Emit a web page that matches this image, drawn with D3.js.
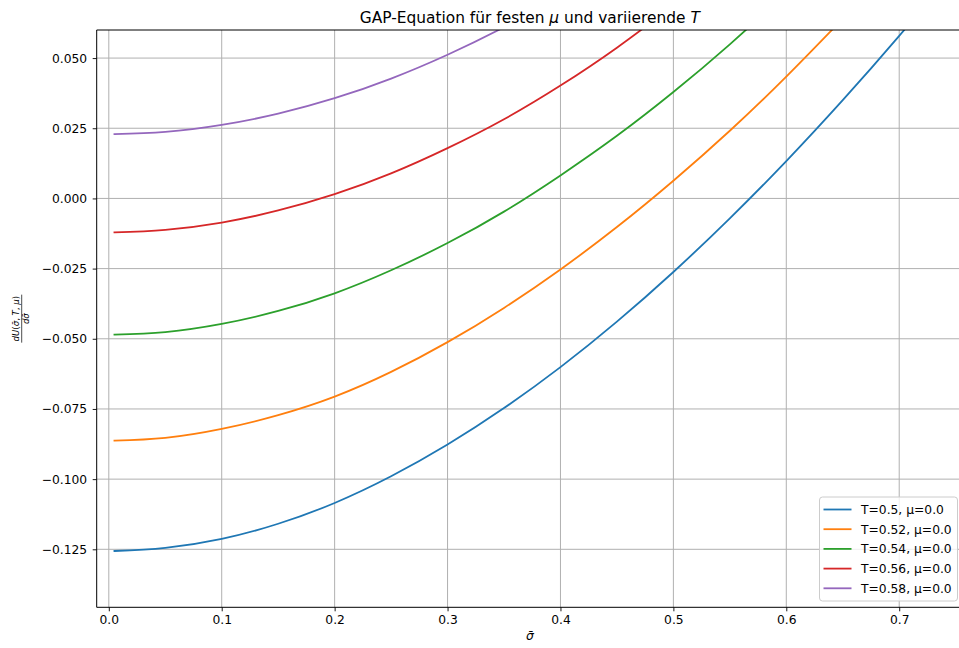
<!DOCTYPE html>
<html>
<head>
<meta charset="utf-8">
<script src="https://cdn.jsdelivr.net/npm/d3@7"></script>
<style>
  html, body { margin: 0; padding: 0; background: #fff; }
  svg { display: block; font-family: "DejaVu Sans", sans-serif; }
</style>
</head>
<body>
<svg id="chart" width="959" height="648"></svg>
<script>
// ---- data ----
const sigma = [0.005, 0.05, 0.1, 0.15, 0.2, 0.25, 0.3, 0.35, 0.4, 0.45, 0.5, 0.55, 0.6, 0.65, 0.7, 0.75];
const seriesLabels = ["T=0.5, μ=0.0", "T=0.52, μ=0.0", "T=0.54, μ=0.0", "T=0.56, μ=0.0", "T=0.58, μ=0.0"];
const valuesT050 = [-0.1256, -0.1245, -0.1213, -0.1159, -0.1085, -0.0990, -0.0877, -0.0747, -0.0601, -0.0439, -0.0262, -0.0071, 0.0133, 0.0350, 0.0579, 0.0819];
const valuesT052 = [-0.0863, -0.0853, -0.0821, -0.0772, -0.0706, -0.0618, -0.0512, -0.0390, -0.0253, -0.0102, 0.0063, 0.0241, 0.0434, 0.0640];
const valuesT054 = [-0.0485, -0.0476, -0.0447, -0.0401, -0.0338, -0.0256, -0.0159, -0.0047, 0.0082, 0.0223, 0.0379, 0.0549, 0.0732];
const valuesT056 = [-0.0121, -0.0112, -0.0086, -0.0043, 0.0015, 0.0089, 0.0179, 0.0282, 0.0402, 0.0537, 0.0687];
const valuesT058 = [0.0229, 0.0237, 0.0262, 0.0302, 0.0357, 0.0427, 0.0512, 0.0610, 0.0720];
const xTicks = [0.0, 0.1, 0.2, 0.3, 0.4, 0.5, 0.6, 0.7];
const yTicks = [-0.125, -0.100, -0.075, -0.050, -0.025, 0.000, 0.025, 0.050];
const colors = ["#1f77b4", "#ff7f0e", "#2ca02c", "#d62728", "#9467bd"];

const allSeries = [valuesT050, valuesT052, valuesT054, valuesT056, valuesT058];

// ---- layout ----
const svg = d3.select("#chart");
const pLeft = 96.7, pRight = 963, pTop = 30, pBottom = 607.3;

const x = d3.scaleLinear().domain([-0.01072, 0.7565]).range([pLeft, pRight]);
const y = d3.scaleLinear().domain([-0.14566, 0.06000]).range([pBottom, pTop]);

svg.append("defs").append("clipPath").attr("id", "plotclip")
  .append("rect").attr("x", pLeft).attr("y", pTop).attr("width", pRight - pLeft).attr("height", pBottom - pTop);

// grid
const grid = svg.append("g");
grid.selectAll(".gx").data(xTicks).join("line")
  .attr("x1", d => x(d)).attr("x2", d => x(d)).attr("y1", pTop).attr("y2", pBottom)
  .attr("stroke", "#b0b0b0").attr("stroke-width", 1);
grid.selectAll(".gy").data(yTicks).join("line")
  .attr("x1", pLeft).attr("x2", pRight).attr("y1", d => y(d)).attr("y2", d => y(d))
  .attr("stroke", "#b0b0b0").attr("stroke-width", 1);

// lines
const line = d3.line()
  .x(d => x(d[0])).y(d => y(d[1]))
  .curve(d3.curveNatural);

const plot = svg.append("g").attr("clip-path", "url(#plotclip)");
allSeries.forEach((vals, i) => {
  const pts = vals.map((v, k) => [sigma[k], v]);
  plot.append("path").datum(pts)
    .attr("d", line).attr("fill", "none")
    .attr("stroke", colors[i]).attr("stroke-width", 1.8)
    .attr("stroke-linecap", "square");
});

// axes
const fmtY = d => d3.format(".3f")(d).replace("-", "\u2212");
const xAxis = d3.axisBottom(x).tickValues(xTicks).tickFormat(d3.format(".1f")).tickSizeOuter(0).tickSize(4).tickPadding(4);
const yAxis = d3.axisLeft(y).tickValues(yTicks).tickFormat(fmtY).tickSizeOuter(0).tickSize(4).tickPadding(4);

const gx = svg.append("g").attr("transform", `translate(0,${pBottom})`).call(xAxis);
const gy = svg.append("g").attr("transform", `translate(${pLeft},0)`).call(yAxis);
[gx, gy].forEach(g => {
  g.select(".domain").remove();
  g.selectAll("text").attr("font-size", "12.3px").attr("font-family", "DejaVu Sans").attr("fill", "#000");
  g.selectAll("line").attr("stroke", "#000").attr("stroke-width", 0.9);
});
gx.selectAll("text").attr("dy", "0.71em").attr("y", 7.5);
gy.selectAll("text").attr("x", -9.5);

// spines
svg.append("line").attr("x1", pLeft).attr("x2", pLeft).attr("y1", pTop).attr("y2", pBottom).attr("stroke", "#000").attr("stroke-width", 1);
svg.append("line").attr("x1", pLeft).attr("x2", pRight).attr("y1", pBottom).attr("y2", pBottom).attr("stroke", "#000").attr("stroke-width", 1);
svg.append("line").attr("x1", pLeft).attr("x2", pRight).attr("y1", pTop).attr("y2", pTop).attr("stroke", "#000").attr("stroke-width", 1);
svg.append("line").attr("x1", pRight).attr("x2", pRight).attr("y1", pTop).attr("y2", pBottom).attr("stroke", "#000").attr("stroke-width", 1);

// title
const title = svg.append("text").attr("x", (pLeft + pRight) / 2).attr("y", 23)
  .attr("text-anchor", "middle").attr("font-size", "15.4px").attr("fill", "#000");
title.append("tspan").text("GAP-Equation für festen ");
title.append("tspan").attr("font-style", "italic").text("μ");
title.append("tspan").text(" und variierende ");
title.append("tspan").attr("font-style", "italic").text("T");

// x label
svg.append("text").attr("x", (pLeft + pRight) / 2).attr("y", 640)
  .attr("text-anchor", "middle").attr("font-size", "12.3px").attr("font-style", "italic")
  .text("σ\u0304");

// y label (fraction)
const yl = svg.append("g").attr("transform", `translate(21.7,${(pTop + pBottom) / 2}) rotate(-90)`);
const num = yl.append("text").attr("x", 0).attr("y", -2.6).attr("text-anchor", "middle").attr("font-size", "8.6px");
num.append("tspan").attr("font-style", "italic").text("dU");
num.append("tspan").text("(");
num.append("tspan").attr("font-style", "italic").text("σ\u0304");
num.append("tspan").text(", ");
num.append("tspan").attr("font-style", "italic").text("T");
num.append("tspan").text(", ");
num.append("tspan").attr("font-style", "italic").text("μ");
num.append("tspan").text(")");
yl.append("line").attr("x1", -24).attr("x2", 24).attr("y1", 0).attr("y2", 0).attr("stroke", "#000").attr("stroke-width", 0.7);
yl.append("text").attr("x", 0).attr("y", 7.6).attr("text-anchor", "middle").attr("font-size", "8.6px")
  .attr("font-style", "italic").text("dσ\u0304");

// legend
const lgX = 819.5, lgY = 497, lgW = 138, lgH = 104;
const lg = svg.append("g");
lg.append("rect").attr("x", lgX).attr("y", lgY).attr("width", lgW).attr("height", lgH)
  .attr("rx", 3).attr("fill", "#fff").attr("fill-opacity", 0.8)
  .attr("stroke", "#cccccc").attr("stroke-width", 1);
seriesLabels.forEach((lab, i) => {
  const cy = 509.5 + i * 19.7;
  lg.append("line").attr("x1", 823.5).attr("x2", 851.5).attr("y1", cy).attr("y2", cy)
    .attr("stroke", colors[i]).attr("stroke-width", 1.8);
  lg.append("text").attr("x", 861).attr("y", cy + 4.4).attr("font-size", "12.3px").attr("fill", "#000").text(lab);
});
</script>
</body>
</html>
